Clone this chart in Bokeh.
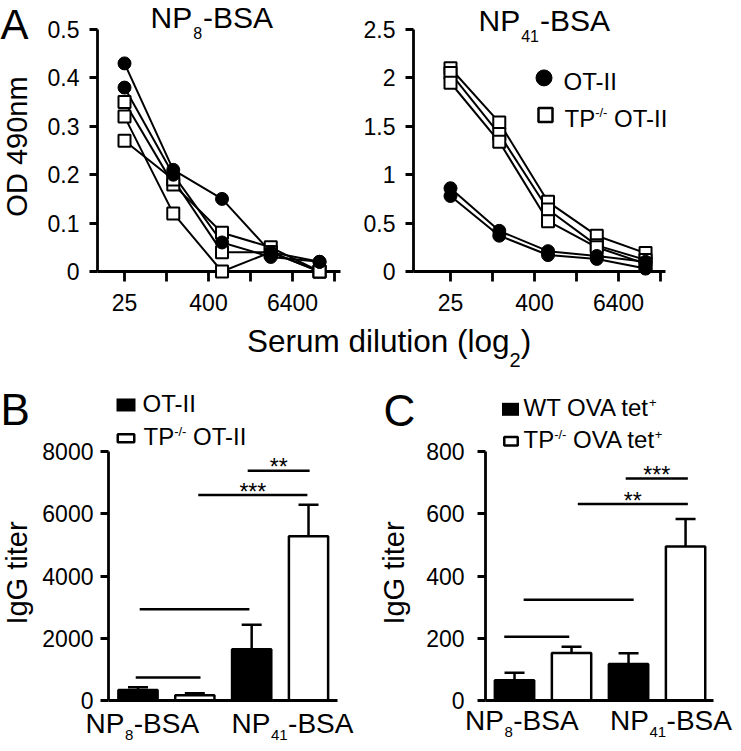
import math
import numpy as np
from bokeh.plotting import figure
from bokeh.models import (Range1d, FixedTicker, NumeralTickFormatter, Whisker,
                          TeeHead, ColumnDataSource)
from bokeh.core.properties import value
from bokeh.layouts import column, row
from bokeh.embed import file_html
from bokeh.resources import INLINE

FONT = "Liberation Sans"
# texts are centred on their em box (ascent 0.905, descent 0.212): baseline lies 0.3465 em below
BASE_SHIFT = 0.3465

# ---------------- data ----------------
dilutions = [25, 125, 625, 3125, 15625]
np8_otii = [[0.43, 0.21, 0.15, 0.04, 0.02],
            [0.38, 0.20, 0.06, 0.03, 0.02]]
np8_tp = [[0.35, 0.18, 0.08, 0.05, 0.00],
          [0.32, 0.12, 0.00, 0.04, 0.00],
          [0.27, 0.19, 0.04, 0.04, 0.00]]
np41_otii = [[0.86, 0.42, 0.21, 0.16, 0.10],
             [0.78, 0.37, 0.17, 0.13, 0.03]]
np41_tp = [[2.10, 1.54, 0.72, 0.37, 0.19],
           [2.05, 1.42, 0.64, 0.27, 0.12],
           [1.95, 1.34, 0.52, 0.25, 0.08]]
dil_ticks = [25, 100, 400, 1600, 6400, 25600]
dil_tick_labels = ["25", "", "400", "", "6400", ""]
od8_ticks = [0, 0.1, 0.2, 0.3, 0.4, 0.5]
od41_ticks = [0, 0.5, 1, 1.5, 2, 2.5]

antigen_subs = ["8", "41"]
b_otii_mean = [340, 1650]
b_otii_sem = [87, 780]
b_tp_mean = [170, 5280]
b_tp_sem = [64, 1010]
b_ticks = [0, 2000, 4000, 6000, 8000]
b_sig = [(2.93, 4.02, 7380, "**"), (2.06, 3.98, 6600, "***"),
         (1.03, 2.96, 2930, ""), (0.96, 2.10, 740, "")]

c_wt_mean = [65, 117]
c_wt_sem = [24, 35]
c_tp_mean = [153, 495]
c_tp_sem = [20, 88]
c_ticks = [0, 200, 400, 600, 800]
c_sig = [(2.95, 4.04, 713, "***"), (2.11, 4.04, 631, "**"),
         (1.16, 3.09, 324, ""), (0.82, 1.96, 205, "")]

# ---------------- helpers ----------------
AW = {' ': 278, '-': 333, '/': 278, '(': 333, ')': 333, '*': 389, '+': 584,
      'A': 667, 'B': 667, 'C': 722, 'D': 722, 'G': 778, 'I': 278, 'N': 722,
      'O': 778, 'P': 667, 'S': 667, 'T': 611, 'V': 667, 'W': 944,
      'a': 556, 'd': 556, 'e': 556, 'g': 556, 'i': 222, 'l': 222, 'm': 833,
      'n': 556, 'o': 556, 'r': 333, 's': 500, 't': 278, 'u': 556}


def tw(s, size):
    return sum(AW.get(c, 556) for c in s) * size / 1000.0


class Geo:
    def __init__(self, L, T, W, H, xr, yr, logx=False):
        self.L, self.T, self.W, self.H = L, T, W, H
        self.xr, self.yr, self.logx = xr, yr, logx

    def x(self, px):
        f = (px - self.L) / self.W
        if self.logx:
            a, b = math.log10(self.xr[0]), math.log10(self.xr[1])
            return 10 ** (a + f * (b - a))
        return self.xr[0] + f * (self.xr[1] - self.xr[0])

    def y(self, py):
        return self.yr[1] - (py - self.T) / self.H * (self.yr[1] - self.yr[0])

    def px(self, x):
        return self.L + (x - self.xr[0]) / (self.xr[1] - self.xr[0]) * self.W

    def py(self, y):
        return self.T + (self.yr[1] - y) / (self.yr[1] - self.yr[0]) * self.H


def make_fig(width, height, g, logx=False, axes=True):
    p = figure(width=width, height=height, x_range=Range1d(*g.xr), y_range=Range1d(*g.yr),
               x_axis_type="log" if logx else "linear", output_backend="svg",
               toolbar_location=None, title=None,
               min_border_left=g.L, min_border_top=g.T,
               min_border_right=width - g.L - g.W, min_border_bottom=height - g.T - g.H,
               x_axis_location="below" if axes else None,
               y_axis_location="left" if axes else None)
    p.grid.visible = False
    p.outline_line_color = None
    p.background_fill_color = "white"
    p.border_fill_color = "white"
    for ax in p.axis:
        ax.axis_line_color = "black"
        ax.axis_line_width = 2.8
        ax.major_tick_line_color = "black"
        ax.major_tick_line_width = 2.8
        ax.major_tick_in = 0
        ax.minor_tick_line_color = None
        ax.major_label_text_font = FONT
        ax.major_label_text_font_size = "23px"
        ax.major_label_text_color = "black"
    return p


def label(p, g, px, py, text, size, align="left", rotated=False):
    """Text whose alphabetic baseline sits at pixel (px, py) of the canvas."""
    if rotated:
        px = px - BASE_SHIFT * size
        ang = math.pi / 2
    else:
        py = py - BASE_SHIFT * size
        ang = 0.0
    p.text(x=[g.x(px)], y=[g.y(py)], text=[text], text_font=value(FONT),
           text_font_size=value(f"{size}px"), text_color="black", text_align=align,
           text_baseline="middle", angle=ang, level="overlay")


def rich(p, g, x0, base, parts):
    """parts: (text, size, baseline shift, extra x shift before the piece)."""
    x = x0
    for text, size, dy, dx in parts:
        x += dx
        while text.startswith(" "):
            x += tw(" ", size)
            text = text[1:]
        label(p, g, x, base + dy, text, size)
        x += tw(text, size)


def style_bar_axes(p, ticks, standoff):
    p.yaxis.ticker = FixedTicker(ticks=ticks)
    p.yaxis.major_tick_out = 8
    p.yaxis.major_label_standoff = standoff
    p.xaxis.ticker = FixedTicker(ticks=[])
    p.xaxis.major_tick_out = 0


def np_label(n, size, sub_size, sub_dy, gap=0.0):
    return [("NP", size, 0, 0), (n, sub_size, sub_dy, gap), ("-BSA", size, 0, gap)]


# ---------------- panel A ----------------
H1 = 320
gA1 = Geo(97, 29, 243, 244, (25 * 2 ** -1.286, 25 * 2 ** 10.286), (0, 0.5), logx=True)
gA2 = Geo(58, 26, 252, 245, (25 * 2 ** -1.762, 25 * 2 ** 10.238), (0, 2.5), logx=True)


def panel_a(width, g, otii, tp, yticks):
    p = make_fig(width, H1, g, logx=True)
    p.xaxis.ticker = FixedTicker(ticks=dil_ticks)
    p.xaxis.major_label_overrides = dict(zip(dil_ticks, dil_tick_labels))
    p.xaxis.major_tick_out = 10
    p.xaxis.major_label_standoff = 12
    p.yaxis.ticker = FixedTicker(ticks=yticks)
    p.yaxis.formatter = NumeralTickFormatter(format="0.[0]")
    p.yaxis.major_tick_out = 8
    p.yaxis.major_label_standoff = 10
    for ys in tp + otii:
        p.line(dilutions, ys, line_color="black", line_width=2, level="overlay")
    for ys in tp:
        p.scatter(dilutions, ys, marker="square", size=12, fill_color="white",
                  line_color="black", line_width=2, level="overlay")
    for ys in otii:
        p.scatter(dilutions, ys, marker="circle", size=13, fill_color="black",
                  line_color="black", line_width=1, level="overlay")
    return p


a1 = panel_a(355, gA1, np8_otii, np8_tp, od8_ticks)
label(a1, gA1, 0, 38.5, "A", 42)
rich(a1, gA1, 150, 27.7, np_label(antigen_subs[0], 30, 16, 10.5, 1.0))
label(a1, gA1, 26.5, 147, "OD 490nm", 29, align="center", rotated=True)

a2 = panel_a(385, gA2, np41_otii, np41_tp, od41_ticks)
rich(a2, gA2, 123, 27.7, np_label(antigen_subs[1], 30, 16, 10.5, 1.0))
a2.scatter([gA2.x(188.5)], [gA2.y(75)], marker="circle", size=16, fill_color="black",
           line_color="black", level="overlay")
a2.scatter([gA2.x(190)], [gA2.y(112.5)], marker="square", size=14, fill_color="white",
           line_color="black", line_width=2.5, level="overlay")
rich(a2, gA2, 208, 87, [("OT-II", 24, 0, 0)])
rich(a2, gA2, 209, 124, [("TP", 24, 0, 0), ("-/-", 13, -9, 0), (" OT-II", 24, 0, 0)])

# ---------------- x-axis title row ----------------
H2 = 52
gS = Geo(0, 0, 740, H2, (0, 740), (0, H2))
serum = make_fig(740, H2, gS, axes=False)
rich(serum, gS, 246.5, 31.5, [("Serum dilution (log", 31.5, 0, 0), ("2", 20, 14.5, 0),
                              (")", 31.5, 0, 0)])

# ---------------- panels B and C ----------------
H3 = 378
BW = 0.69
n_groups = len(antigen_subs)
pos_a = np.arange(n_groups) * 2 + 1.0
pos_b = pos_a + 1.0


def bars(p, g, mean_a, sem_a, mean_b, sem_b, sig):
    p.vbar(x=pos_a, top=mean_a, width=BW, fill_color="black", line_color="black", line_width=2.5)
    p.vbar(x=pos_b, top=mean_b, width=BW, fill_color="white", line_color="black", line_width=2.5)
    for pos, m, s in ((pos_a, mean_a, sem_a), (pos_b, mean_b, sem_b)):
        src = ColumnDataSource(dict(base=pos, lower=np.array(m, float),
                                    upper=np.array(m, float) + np.array(s, float)))
        p.add_layout(Whisker(source=src, base="base", lower="lower", upper="upper",
                             dimension="height", line_color="black", line_width=2.5,
                             upper_head=TeeHead(size=20, line_color="black", line_width=2.5),
                             lower_head=None, level="glyph"))
    x0 = [s[0] for s in sig]
    x1 = [s[1] for s in sig]
    yy = [s[2] for s in sig]
    p.segment(x0=x0, y0=yy, x1=x1, y1=yy, line_color="black", line_width=2.5)
    for a, b, y, txt in sig:
        if txt:
            label(p, g, g.px((a + b) / 2), g.py(y) + 4.5, txt, 23, align="center")


CAT = 28
gB = Geo(108, 78, 229, 250, (0.481, 4.51), (0, 8000))
pb = make_fig(365, H3, gB)
style_bar_axes(pb, b_ticks, 7)
bars(pb, gB, b_otii_mean, b_otii_sem, b_tp_mean, b_tp_sem, b_sig)
label(pb, gB, 0, 51, "B", 44)
label(pb, gB, 27, 200, "IgG titer", 29, align="center", rotated=True)
pb.rect(x=[gB.x(125.5)], y=[gB.y(31.3)], width=19, height=13, width_units="screen",
        height_units="screen", fill_color="black", line_color=None, level="overlay")
pb.rect(x=[gB.x(125.5)], y=[gB.y(64.7)], width=16.5, height=8, width_units="screen",
        height_units="screen", fill_color="white", line_color="black", line_width=2.5,
        level="overlay")
rich(pb, gB, 142, 38, [("OT-II", 24, 0, 0)])
rich(pb, gB, 143, 71.3, [("TP", 24, 0, 0), ("-/-", 13, -9, 0), (" OT-II", 24, 0, 0)])
rich(pb, gB, 85, 361, np_label(antigen_subs[0], CAT, 15, 7, 0.5))
rich(pb, gB, 231, 361, np_label(antigen_subs[1], CAT, 15, 7, 0.5))

gC = Geo(120, 79, 228, 252, (0.491, 4.49), (0, 800))
pc = make_fig(375, H3, gC)
style_bar_axes(pc, c_ticks, 13)
bars(pc, gC, c_wt_mean, c_wt_sem, c_tp_mean, c_tp_sem, c_sig)
label(pc, gC, 18, 53, "C", 44)
label(pc, gC, 39, 202, "IgG titer", 29, align="center", rotated=True)
pc.rect(x=[gC.x(145)], y=[gC.y(36.3)], width=17, height=13, width_units="screen",
        height_units="screen", fill_color="black", line_color=None, level="overlay")
pc.rect(x=[gC.x(145.5)], y=[gC.y(68.5)], width=13.5, height=8.5, width_units="screen",
        height_units="screen", fill_color="white", line_color="black", line_width=2.5,
        level="overlay")
rich(pc, gC, 158, 43, [("WT OVA tet", 24, 0, 0), ("+", 13, -9, -2.5)])
rich(pc, gC, 158, 75, [("TP", 24, 0, 0), ("-/-", 13, -9, 0), (" OVA tet", 24, 0, 0),
                       ("+", 13, -9, -2.5)])
rich(pc, gC, 99.5, 361, np_label(antigen_subs[0], CAT, 15, 7, 0.5))
rich(pc, gC, 244.5, 361, np_label(antigen_subs[1], CAT, 15, 7, 0.5))

layout = column(row(a1, a2), serum, row(pb, pc))

with open("out.html", "w") as f:
    f.write(file_html(layout, INLINE))
